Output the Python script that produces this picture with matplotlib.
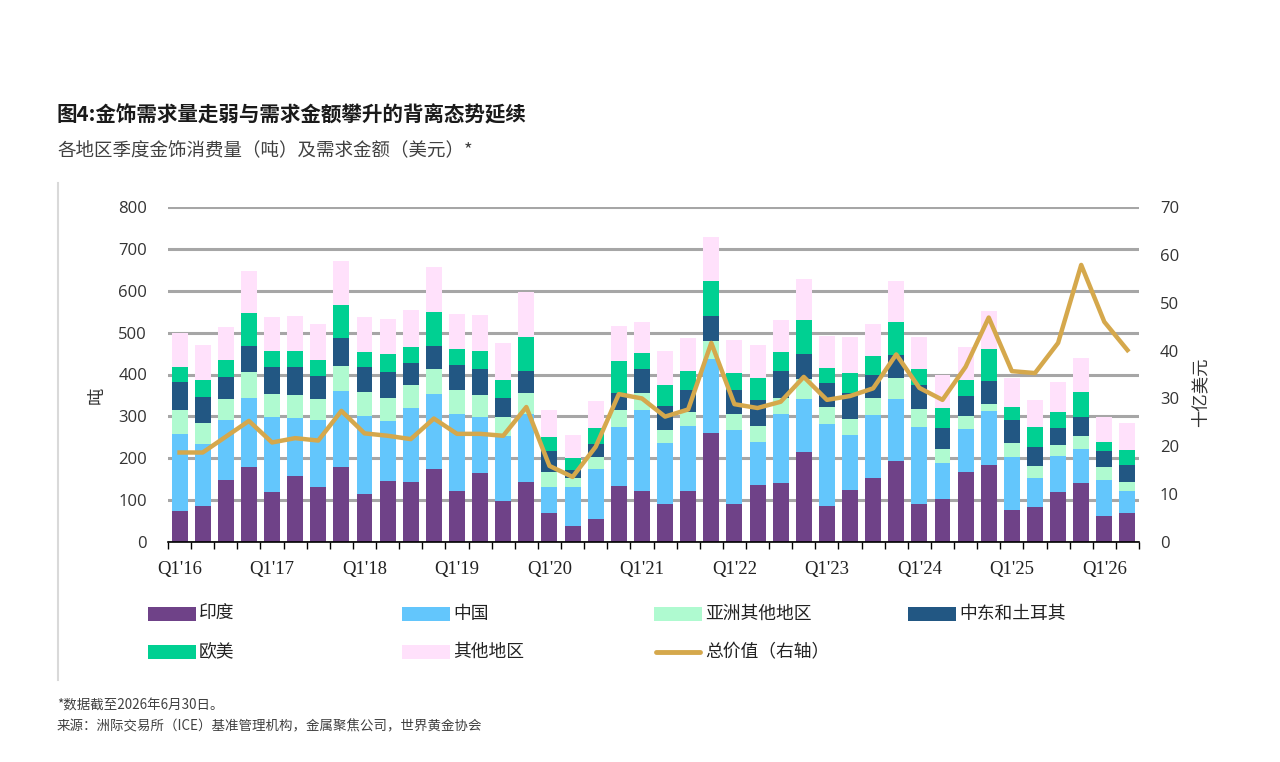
import numpy as np
import matplotlib
matplotlib.use("Agg")
import matplotlib.pyplot as plt
from matplotlib.patches import Rectangle
from matplotlib.lines import Line2D

plt.rcParams['font.family'] = ['Noto Sans CJK SC', 'DejaVu Sans']

# quarterly jewellery demand by region (tonnes), Q1'16 .. Q2'26
india = [75, 85, 148, 178, 119, 158, 131, 178, 115, 146, 144, 175, 121, 164, 97, 144,
         69, 39, 56, 133, 121, 91, 121, 260, 91, 135, 140, 216, 85, 123, 152, 194,
         91, 102, 167, 185, 76, 83, 119, 140, 63, 70]
china = [183, 150, 144, 167, 179, 137, 161, 183, 187, 144, 176, 178, 185, 134, 157, 162,
         62, 92, 118, 142, 195, 145, 155, 177, 177, 104, 166, 126, 197, 133, 152, 148,
         184, 87, 104, 129, 126, 70, 86, 83, 84, 51]
other_asia = [57, 48, 49, 60, 55, 55, 49, 60, 56, 53, 56, 59, 56, 52, 44, 49,
              35, 21, 28, 41, 40, 32, 34, 42, 38, 37, 38, 47, 41, 38, 41, 49,
              43, 32, 29, 16, 34, 28, 27, 31, 31, 23]
mideast_turkey = [67, 63, 53, 63, 66, 67, 56, 65, 59, 62, 51, 57, 61, 64, 47, 53,
                  52, 21, 33, 41, 58, 56, 54, 60, 58, 62, 64, 60, 57, 62, 55, 55,
                  58, 51, 48, 55, 55, 47, 40, 44, 40, 41]
europe_us = [37, 40, 40, 80, 36, 40, 38, 79, 36, 44, 39, 80, 38, 42, 41, 82,
             33, 27, 37, 76, 37, 52, 44, 85, 40, 53, 45, 82, 36, 48, 43, 79,
             36, 48, 40, 76, 32, 46, 39, 60, 22, 35]
rest_world = [80, 84, 79, 100, 82, 83, 86, 106, 85, 84, 87, 108, 83, 87, 89, 107,
              65, 55, 64, 84, 74, 79, 79, 104, 78, 79, 78, 97, 77, 85, 78, 99,
              77, 80, 78, 91, 69, 66, 70, 81, 58, 63]
# total value, US$bn (right axis)
total_value = [18.7, 18.7, 22.0, 25.3, 20.8, 21.7, 21.2, 27.4, 22.7, 22.2, 21.5, 25.8,
               22.6, 22.6, 22.2, 28.2, 15.9, 13.6, 19.9, 30.9, 30.0, 26.2, 27.7, 41.6,
               28.8, 28.0, 29.3, 34.5, 29.7, 30.5, 32.1, 39.2, 32.2, 29.7, 36.6, 46.9,
               35.7, 35.3, 41.6, 57.9, 46.0, 40.1]

tick_labels = ["Q1'16", "Q1'17", "Q1'18", "Q1'19", "Q1'20", "Q1'21",
               "Q1'22", "Q1'23", "Q1'24", "Q1'25", "Q1'26"]

series_names = ["印度", "中国", "亚洲其他地区", "中东和土耳其", "欧美", "其他地区"]
series_colors = ["#6F4288", "#63C6FC", "#AFFAD0", "#225783", "#00D092", "#FFE1FB"]
line_name = "总价值（右轴）"
line_color = "#D5A84C"

W, H = 1280, 762


def fx(x):
    return x / W


def fy(y):
    return 1 - y / H


fig = plt.figure(figsize=(W / 100, H / 100), dpi=100)
ax = fig.add_axes([fx(168), fy(542), fx(1139) - fx(168), fy(207) - fy(542)])

n = len(india)
x = np.arange(n)
stack = [india, china, other_asia, mideast_turkey, europe_us, rest_world]
bottom = np.zeros(n)
for vals, color in zip(stack, series_colors):
    vals = np.array(vals, dtype=float)
    ax.bar(x, vals, 0.69, bottom=bottom, color=color, linewidth=0, zorder=2)
    bottom += vals

ax.set_xlim(-0.5, n - 0.5)
ax.set_ylim(0, 800)
ax.set_yticks(np.arange(0, 801, 100))
ax.yaxis.grid(True, color="#A6A6A6", linewidth=2.2, zorder=0)
ax.set_axisbelow(True)
for s in ["left", "right", "top"]:
    ax.spines[s].set_visible(False)
ax.spines["bottom"].set_color("black")
ax.spines["bottom"].set_linewidth(1.2)
ax.spines["bottom"].set_zorder(3)

ax.set_xticks(np.arange(0, n, 4))
ax.set_xticklabels(tick_labels, family="Liberation Serif", fontsize=13.5, color="#222222")
ax.set_xticks(np.arange(-0.5, n, 1), minor=True)
ax.tick_params(axis="x", which="major", length=0, pad=14)
ax.tick_params(axis="x", which="minor", length=5, width=1, color="black", direction="out")
ax.tick_params(axis="y", length=0, pad=15, labelsize=12, labelcolor="#333333")
for lab in ax.get_yticklabels():
    lab.set_family("Open Sans")

ax2 = ax.twinx()
ax2.plot(x, total_value, color=line_color, linewidth=3.2, solid_joinstyle="round", zorder=5)
ax2.set_ylim(0, 70)
ax2.set_yticks(np.arange(0, 71, 10))
ax2.tick_params(axis="y", length=0, pad=15, labelsize=12, labelcolor="#333333")
for lab in ax2.get_yticklabels():
    lab.set_family("Open Sans")
for s in ax2.spines.values():
    s.set_visible(False)

# axis titles
fig.text(fx(97), fy(395), "吨", rotation=90, ha="center", va="center",
         fontsize=12.5, color="#333333")
fig.text(fx(1200), fy(392), "十亿美元", rotation=90, ha="center", va="center",
         fontsize=12.5, color="#333333")

# titles
fig.text(fx(57), fy(115), "图4:金饰需求量走弱与需求金额攀升的背离态势延续",
         ha="left", va="center", fontsize=14.8, fontweight="bold", color="#1A1A1A")
fig.text(fx(57), fy(151), "各地区季度金饰消费量（吨）及需求金额（美元）*",
         ha="left", va="center", fontsize=13.3, color="#404040")

# left rule
fig.add_artist(Line2D([fx(58), fx(58)], [fy(183), fy(680)], color="#D9D9D9", linewidth=1.5))

# legend drawn by hand on an even grid
col_x = [148, 402, 654, 908]
row_y = [614, 652]
entries = list(zip(series_names, series_colors)) + [(line_name, None)]
for i, (name, color) in enumerate(entries):
    cx = col_x[i % 4]
    cy = row_y[i // 4]
    if color is None:
        fig.add_artist(Line2D([fx(cx + 2), fx(cx + 46)], [fy(cy), fy(cy)],
                              color=line_color, linewidth=3.5, solid_capstyle="round"))
    else:
        fig.add_artist(Rectangle((fx(cx), fy(cy + 7)), fx(48), 14 / H,
                                 facecolor=color, edgecolor="none"))
    fig.text(fx(cx + 51), fy(cy), name, ha="left", va="center", fontsize=12.8,
             color="#222222")

# footnotes
fig.text(fx(57), fy(706), "*数据截至2026年6月30日。", ha="left", va="center",
         fontsize=9.7, color="#404040")
fig.text(fx(57), fy(726), "来源：洲际交易所（ICE）基准管理机构，金属聚焦公司，世界黄金协会",
         ha="left", va="center", fontsize=9.7, color="#404040")

fig.savefig("out.png", dpi=100)
